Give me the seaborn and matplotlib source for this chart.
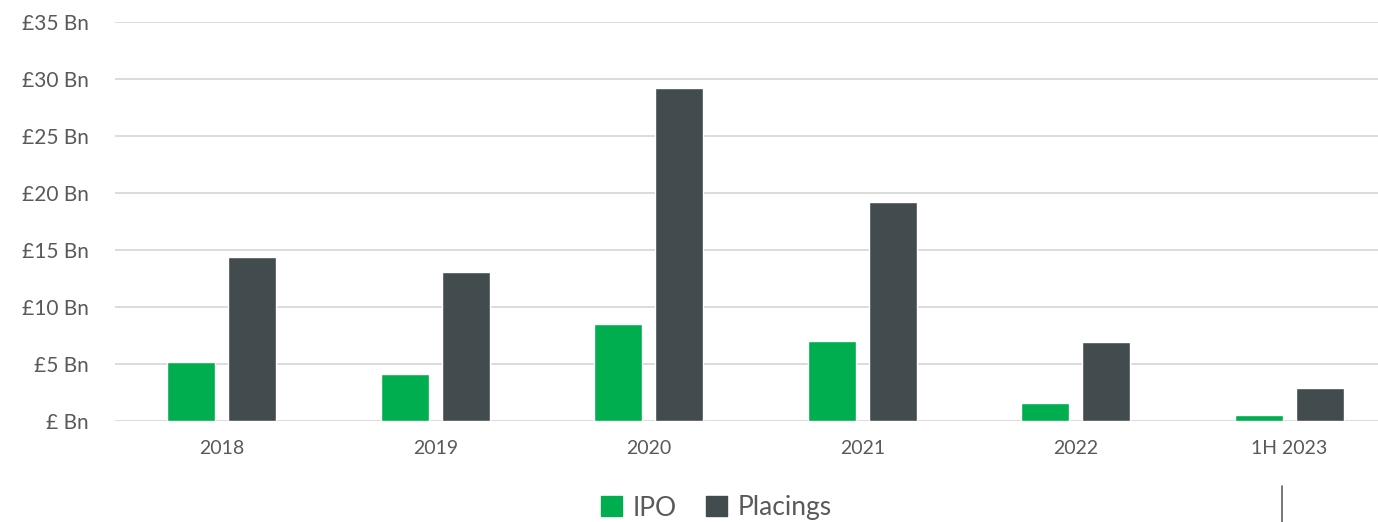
import pandas as pd
import matplotlib.pyplot as plt
import seaborn as sns
from matplotlib.lines import Line2D
from matplotlib.ticker import FuncFormatter

# Set style
sns.set_theme(style="white")
plt.rcParams['font.family'] = ['Lato', 'DejaVu Sans']

periods = ['2018', '2019', '2020', '2021', '2022', '1H 2023']
ipo = [5.15, 4.1, 8.5, 7.0, 1.6, 0.55]
placings = [14.4, 13.1, 29.2, 19.2, 6.9, 2.9]
series = ['IPO', 'Placings']
colors = ['#00AE4F', '#424B4E']
text_col = '#595959'

df = pd.DataFrame({
    'period': periods * 2,
    'value': ipo + placings,
    'type': ['IPO'] * len(periods) + ['Placings'] * len(periods),
})

fig = plt.figure(figsize=(13.78, 5.22), dpi=100)
ax = fig.add_axes([115 / 1378, 101 / 522, 1281 / 1378, 399 / 522])

sns.barplot(data=df, x='period', y='value', hue='type', order=periods,
            hue_order=series, palette=colors, width=0.571, gap=0.213,
            saturation=1, ax=ax, legend=False)

ax.set_ylim(0, 35)
ax.set_xlim(-0.5, len(periods) - 0.5)
ax.set_yticks(range(0, 36, 5))
ax.yaxis.set_major_formatter(FuncFormatter(lambda v, p: '£ Bn' if v == 0 else f'£{int(v)} Bn'))
ax.grid(axis='y', color='#D9D9D9', linewidth=1.3)
ax.set_axisbelow(True)
for s in ax.spines.values():
    s.set_visible(False)
ax.set_xlabel('')
ax.set_ylabel('')
ax.tick_params(axis='both', length=0, colors=text_col, labelsize=15)
ax.tick_params(axis='x', labelsize=14, pad=14)
ax.tick_params(axis='y', pad=19)

handles = [plt.Rectangle((0, 0), 1, 1, color=c) for c in colors]
fig.legend(handles, series, loc='center', bbox_to_anchor=(716 / 1378, 1 - 508 / 522),
           ncol=2, frameon=False, fontsize=19, labelcolor=text_col,
           handlelength=0.8, handleheight=0.8, handletextpad=0.4, columnspacing=1.1)

# small stray vertical stroke at bottom right of the original
fig.add_artist(Line2D([1282 / 1378, 1282 / 1378], [0, 1 - 486 / 522],
                      transform=fig.transFigure, color='#5A6163', linewidth=1.2))

fig.savefig('out.png', dpi=100)
